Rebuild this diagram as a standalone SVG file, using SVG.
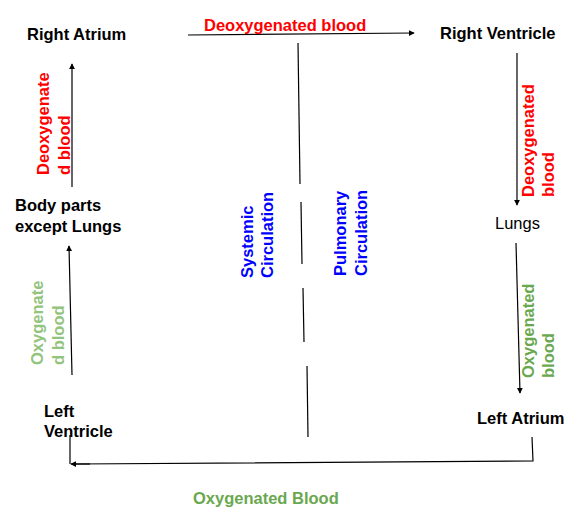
<svg xmlns="http://www.w3.org/2000/svg" width="585" height="520" viewBox="0 0 585 520">
<defs>
<marker id="ah" viewBox="0 0 8 8" refX="7" refY="4" markerWidth="6" markerHeight="6" markerUnits="userSpaceOnUse" orient="auto">
<path d="M0,0 L8,4 L0,8 Z" fill="#000"/>
</marker>
<style>
text{font-family:"Liberation Sans",Arial,sans-serif;font-size:16.5px}
.b{font-weight:bold;fill:#000}
.n{fill:#000}
.red{font-weight:bold;fill:#ff0000}
.g1{font-weight:bold;fill:#6aa84f}
.g2{font-weight:bold;fill:#93c47d}
.blue{font-weight:bold;fill:#0000ff}
.ln{stroke:#000;stroke-width:1.2;fill:none}
.arr{stroke:#000;stroke-width:1.2;fill:none;marker-end:url(#ah)}
</style>
</defs>
<rect width="585" height="520" fill="#fff"/>
<g id="connectors">
<line class="arr" x1="188" y1="35" x2="414" y2="33"/>
<line class="arr" x1="517" y1="53" x2="517" y2="205"/>
<line class="arr" x1="516" y1="243" x2="520" y2="393"/>
<polyline class="ln" points="532,437 533,461 76,464"/>
<line class="arr" x1="90" y1="464" x2="71" y2="464"/>
<line class="ln" x1="70" y1="435" x2="70" y2="464"/>
<line class="arr" x1="72" y1="375" x2="69" y2="246"/>
<line class="arr" x1="72" y1="187" x2="72" y2="64"/>
<line class="ln" x1="298" y1="43" x2="300" y2="184"/>
<line class="ln" x1="301" y1="202" x2="302" y2="264"/>
<line class="ln" x1="303" y1="288" x2="304" y2="342"/>
<line class="ln" x1="307" y1="366" x2="308" y2="437"/>
</g>
<g id="right-atrium"><text class="b" x="27" y="40">Right Atrium</text></g>
<g id="right-ventricle"><text class="b" x="440" y="39">Right Ventricle</text></g>
<g id="lungs"><text class="n" x="495" y="229">Lungs</text></g>
<g id="left-atrium"><text class="b" x="477" y="424">Left Atrium</text></g>
<g id="left-ventricle"><text class="b"><tspan x="44" y="417">Left</tspan><tspan x="44" y="437">Ventricle</tspan></text></g>
<g id="body-parts"><text class="b"><tspan x="15" y="211">Body parts</tspan><tspan x="15" y="232">except Lungs</tspan></text></g>
<g id="labels">
<text class="red" x="204" y="31">Deoxygenated blood</text>
<text class="red" transform="translate(534,197) rotate(-90)"><tspan x="0" y="0">Deoxygenated</tspan><tspan x="0" y="20">blood</tspan></text>
<text class="g1" transform="translate(534,378) rotate(-90)"><tspan x="0" y="0">Oxygenated</tspan><tspan x="0" y="20">blood</tspan></text>
<text class="red" transform="translate(49,175) rotate(-90)"><tspan x="0" y="0">Deoxygenate</tspan><tspan x="0" y="21">d blood</tspan></text>
<text class="g2" transform="translate(43,365) rotate(-90)"><tspan x="0" y="0">Oxygenate</tspan><tspan x="0" y="21">d blood</tspan></text>
<text class="blue" transform="translate(253,278) rotate(-90)"><tspan x="0" y="0">Systemic</tspan><tspan x="0" y="20">Circulation</tspan></text>
<text class="blue" transform="translate(346,276) rotate(-90)"><tspan x="0" y="0">Pulmonary</tspan><tspan x="0" y="21">Circulation</tspan></text>
<text class="g1" x="193" y="504">Oxygenated Blood</text>
</g>
</svg>
